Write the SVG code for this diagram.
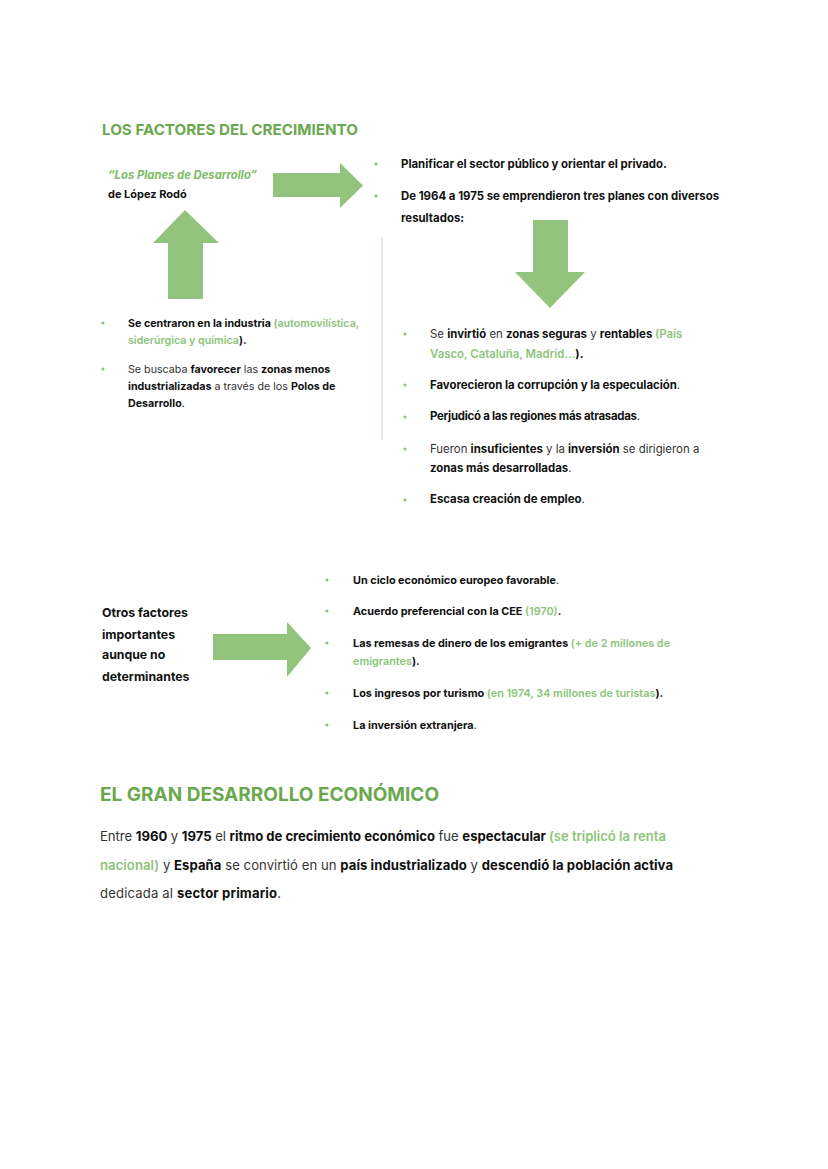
<svg xmlns="http://www.w3.org/2000/svg" width="828" height="1169" viewBox="0 0 828 1169">
<style>
text{font-family:Inter,"Noto Sans","DejaVu Sans",sans-serif;fill:#111;}
.t{font-size:11.4px;}
.tl{font-size:10.7px;}
.tb{font-size:10.85px;}
.b{font-weight:700;}
.r{font-weight:400;fill:#333;}
.g{fill:#8cc47a;font-weight:600;}
.h1{font-size:15.2px;font-weight:700;fill:#6aa84f;}
.h2{font-size:19px;font-weight:700;fill:#6aa84f;}
.p{font-size:13.1px;}
.dot{fill:#8cc47a;}
.arr{fill:#93c47d;}
</style>
<rect width="828" height="1169" fill="#ffffff"/>

<g id="title-factores"><text class="h1" x="102" y="135">LOS FACTORES DEL CRECIMIENTO</text></g>

<g id="node-planes">
<text class="t" x="108" y="179" style="font-size:11.3px;font-weight:700;font-style:italic;fill:#7dbb66">“Los Planes de Desarrollo”</text>
<text class="t b" x="108" y="198" style="font-size:11px">de López Rodó</text>
</g>

<g id="node-objetivos">
<circle class="dot" cx="376" cy="164" r="1.6"/>
<text class="t b" x="401" y="168">Planificar el sector público y orientar el privado.</text>
<circle class="dot" cx="376" cy="196" r="1.6"/>
<text class="t b" x="401" y="200">De 1964 a 1975 se emprendieron tres planes con diversos</text>
<text class="t b" x="401" y="222">resultados:</text>
</g>

<g id="node-industria">
<circle class="dot" cx="103" cy="323" r="1.6"/>
<text class="tl" x="128" y="327"><tspan class="b">Se centraron en la industria </tspan><tspan class="g">(automovilística,</tspan></text>
<text class="tl g" x="128" y="344">siderúrgica y química<tspan class="b" style="fill:#111">).</tspan></text>
<circle class="dot" cx="103" cy="369" r="1.6"/>
<text class="tl" x="128" y="373"><tspan class="r">Se buscaba </tspan><tspan class="b">favorecer</tspan><tspan class="r"> las </tspan><tspan class="b">zonas menos</tspan></text>
<text class="tl" x="128" y="390"><tspan class="b">industrializadas</tspan><tspan class="r"> a través de los </tspan><tspan class="b">Polos de</tspan></text>
<text class="tl" x="128" y="407"><tspan class="b">Desarrollo</tspan><tspan class="r">.</tspan></text>
</g>

<g id="node-resultados">
<circle class="dot" cx="405" cy="334" r="1.6"/>
<text class="t" x="430" y="338"><tspan class="r">Se </tspan><tspan class="b">invirtió</tspan><tspan class="r"> en </tspan><tspan class="b">zonas seguras</tspan><tspan class="r"> y </tspan><tspan class="b">rentables </tspan><tspan class="g">(País</tspan></text>
<text class="t" x="430" y="358"><tspan class="g">Vasco, Cataluña, Madrid...</tspan><tspan class="b">).</tspan></text>
<circle class="dot" cx="405" cy="385" r="1.6"/>
<text class="t b" x="430" y="389" textLength="250" lengthAdjust="spacing">Favorecieron la corrupción y la especulación<tspan class="r">.</tspan></text>
<circle class="dot" cx="405" cy="417" r="1.6"/>
<text class="t b" x="430" y="420" textLength="210" lengthAdjust="spacing">Perjudicó a las regiones más atrasadas<tspan class="r">.</tspan></text>
<circle class="dot" cx="405" cy="449" r="1.6"/>
<text class="t" x="430" y="453"><tspan class="r">Fueron </tspan><tspan class="b">insuficientes</tspan><tspan class="r"> y la </tspan><tspan class="b">inversión</tspan><tspan class="r"> se dirigieron a</tspan></text>
<text class="t" x="430" y="472"><tspan class="b">zonas más desarrolladas</tspan><tspan class="r">.</tspan></text>
<circle class="dot" cx="405" cy="500" r="1.6"/>
<text class="t b" x="430" y="503">Escasa creación de empleo<tspan class="r">.</tspan></text>
</g>

<g id="node-otros">
<text class="b" x="102" y="617" style="font-size:12.3px">Otros factores</text>
<text class="b" x="102" y="639" style="font-size:12.3px">importantes</text>
<text class="b" x="102" y="659" style="font-size:12.3px">aunque no</text>
<text class="b" x="102" y="681" style="font-size:12.3px">determinantes</text>
</g>

<g id="node-otros-lista">
<circle class="dot" cx="327" cy="580" r="1.6"/>
<text class="tb b" x="353" y="584">Un ciclo económico europeo favorable<tspan class="r">.</tspan></text>
<circle class="dot" cx="327" cy="611" r="1.6"/>
<text class="tb" x="353" y="615"><tspan class="b">Acuerdo preferencial con la CEE </tspan><tspan class="g">(1970)</tspan><tspan class="b">.</tspan></text>
<circle class="dot" cx="327" cy="643" r="1.6"/>
<text class="tb" x="353" y="647"><tspan class="b">Las remesas de dinero de los emigrantes </tspan><tspan class="g">(+ de 2 millones de</tspan></text>
<text class="tb" x="353" y="665"><tspan class="g">emigrantes</tspan><tspan class="b">).</tspan></text>
<circle class="dot" cx="327" cy="693" r="1.6"/>
<text class="tb" x="353" y="697"><tspan class="b">Los ingresos por turismo </tspan><tspan class="g">(en 1974, 34 millones de turistas</tspan><tspan class="b">).</tspan></text>
<circle class="dot" cx="327" cy="725" r="1.6"/>
<text class="tb b" x="353" y="729">La inversión extranjera<tspan class="r">.</tspan></text>
</g>

<g id="title-desarrollo"><text class="h2" x="100" y="801">EL GRAN DESARROLLO ECONÓMICO</text></g>

<g id="node-parrafo">
<text class="p" x="100" y="841" textLength="566" lengthAdjust="spacing"><tspan class="r">Entre </tspan><tspan class="b">1960</tspan><tspan class="r"> y </tspan><tspan class="b">1975</tspan><tspan class="r"> el </tspan><tspan class="b">ritmo de crecimiento económico</tspan><tspan class="r"> fue </tspan><tspan class="b">espectacular </tspan><tspan class="g">(se triplicó la renta</tspan></text>
<text class="p" x="100" y="870" textLength="573" lengthAdjust="spacing"><tspan class="g">nacional)</tspan><tspan class="r"> y </tspan><tspan class="b">España</tspan><tspan class="r"> se convirtió en un </tspan><tspan class="b">país industrializado</tspan><tspan class="r"> y </tspan><tspan class="b">descendió la población activa</tspan></text>
<text class="p" x="100" y="898" textLength="181" lengthAdjust="spacing"><tspan class="r">dedicada al </tspan><tspan class="b">sector primario</tspan><tspan class="r">.</tspan></text>
</g>

<g id="connectors">
<polygon class="arr" points="273,173 340,173 340,163 363,185.5 340,208 340,197 273,197"/>
<polygon class="arr" points="168,299 168,243 153,243 185,210 219,243 203,243 203,299"/>
<polygon class="arr" points="533,220 568,220 568,272 585,272 550,308 515,272 533,272"/>
<polygon class="arr" points="213,634 287,634 287,622 311,648 287,677 287,660 213,660"/>
<line x1="382" y1="238" x2="382" y2="440" stroke="#d6e6d0" stroke-width="1.5"/>
</g>
</svg>
